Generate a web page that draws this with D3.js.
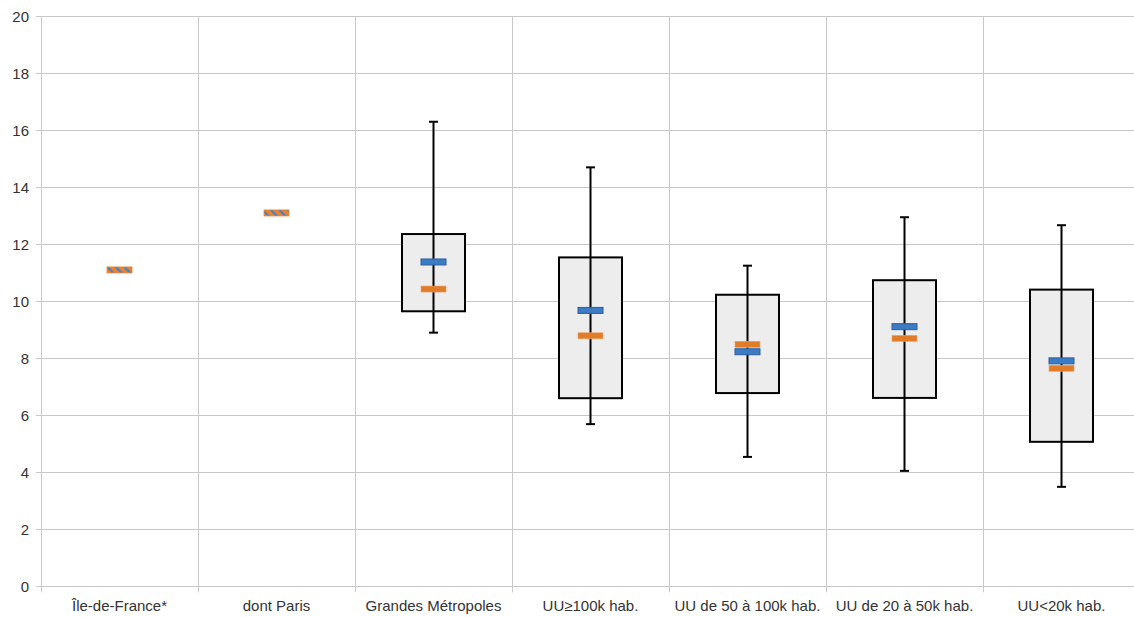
<!DOCTYPE html>
<html><head><meta charset="utf-8">
<script src="https://cdn.jsdelivr.net/npm/d3@7"></script>
<style>body{margin:0;background:#fff}svg{display:block}</style>
</head><body>
<svg id="c" width="1134" height="617"></svg>
<script>
const categories = ["Île-de-France*","dont Paris","Grandes Métropoles","UU≥100k hab.","UU de 50 à 100k hab.","UU de 20 à 50k hab.","UU<20k hab."];
const whiskerMin = [null,null,8.90,5.69,4.54,4.05,3.49];
const boxQ1      = [null,null,9.65,6.60,6.78,6.61,5.07];
const boxQ3      = [null,null,12.36,11.54,10.23,10.74,10.41];
const whiskerMax = [null,null,16.30,14.70,11.25,12.95,12.67];
const seriesBlue   = [11.10,13.10,11.38,9.68,8.23,9.11,7.91];
const seriesOrange = [11.10,13.10,10.43,8.79,8.49,8.70,7.65];
const yTicks = [0,2,4,6,8,10,12,14,16,18,20];

const svg = d3.select("#c");
const L = 41, R = 1140, T = 16.3, B = 586.3;
const x = d3.scaleBand().domain(categories).range([L, R]).padding(0);
const y = d3.scaleLinear().domain([0,20]).range([B, T]);
const grid = "#c8c8c8";
const font = "'Liberation Sans', Arial, sans-serif";

const defs = svg.append("defs");
const pat = defs.append("pattern").attr("id","stripe").attr("patternUnits","userSpaceOnUse")
  .attr("width",6).attr("height",6).attr("patternTransform","rotate(-45)");
pat.append("rect").attr("width",6).attr("height",6).attr("fill","#e8842f");
pat.append("rect").attr("width",2.2).attr("height",6).attr("fill","#4f7fc0");

// horizontal gridlines
svg.append("g").selectAll("line").data(yTicks).join("line")
  .attr("x1", L-5).attr("x2", R).attr("y1", d=>Math.round(y(d))+0.5).attr("y2", d=>Math.round(y(d))+0.5)
  .attr("stroke", grid).attr("stroke-width",1);
// vertical category separators
const bounds = categories.map(c=>x(c)).concat([R]);
svg.append("g").selectAll("line").data(bounds).join("line")
  .attr("x1", d=>Math.round(d)+0.5).attr("x2", d=>Math.round(d)+0.5)
  .attr("y1", T).attr("y2", B+6).attr("stroke", grid).attr("stroke-width",1);

// y labels
svg.append("g").selectAll("text").data(yTicks).join("text")
  .attr("x", 29).attr("y", d=>y(d)).attr("dy","0.35em").attr("text-anchor","end")
  .attr("font-family", font).attr("font-size", 15).attr("fill","#333").text(d=>d);
// x labels
svg.append("g").selectAll("text").data(categories).join("text")
  .attr("x", d=>x(d)+x.bandwidth()/2).attr("y", 611).attr("text-anchor","middle")
  .attr("font-family", font).attr("font-size", 15).attr("fill","#333").text(d=>d);

const boxW = 63, capW = 9, mW = 25, mH = 6;
const rows = categories.map((c,i)=>({c, lo:whiskerMin[i], q1:boxQ1[i], q3:boxQ3[i], hi:whiskerMax[i], b:seriesBlue[i], o:seriesOrange[i]}));
const g = svg.append("g");
rows.forEach(r=>{
  const cx = x(r.c) + x.bandwidth()/2;
  if (r.q1 != null) {
    g.append("rect").attr("x", cx-boxW/2).attr("y", y(r.q3)).attr("width", boxW).attr("height", y(r.q1)-y(r.q3))
      .attr("fill","#ededed").attr("stroke","#000").attr("stroke-width",2);
    g.append("line").attr("x1",cx).attr("x2",cx).attr("y1",y(r.hi)).attr("y2",y(r.lo)).attr("stroke","#000").attr("stroke-width",2);
    [r.hi, r.lo].forEach(v=>g.append("line").attr("x1",cx-capW/2).attr("x2",cx+capW/2).attr("y1",y(v)).attr("y2",y(v)).attr("stroke","#000").attr("stroke-width",2));
  }
  if (r.b === r.o) {
    g.append("rect").attr("x", cx-mW/2).attr("y", y(r.b)-mH/2).attr("width", mW).attr("height", mH)
      .attr("fill","url(#stripe)").attr("stroke","#e8842f").attr("stroke-width",0.8);
  } else {
    g.append("rect").attr("x", cx-mW/2).attr("y", y(r.o)-mH/2).attr("width", mW).attr("height", mH)
      .attr("fill","#e07b28").attr("stroke","#f0a060").attr("stroke-width",0.6);
    g.append("rect").attr("x", cx-mW/2).attr("y", y(r.b)-mH/2).attr("width", mW).attr("height", mH)
      .attr("fill","#3c7cc4").attr("stroke","#2c5f9e").attr("stroke-width",1);
  }
});
</script>
</body></html>
